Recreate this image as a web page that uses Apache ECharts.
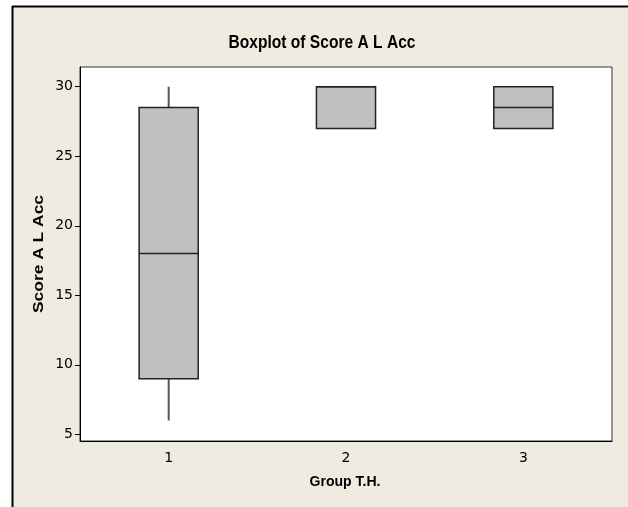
<!DOCTYPE html>
<html>
<head>
<meta charset="utf-8">
<script src="https://cdn.jsdelivr.net/npm/echarts@6/dist/echarts.min.js"></script>
<style>html,body{margin:0;padding:0;background:#fff}#c{width:628px;height:507px}</style>
</head>
<body>
<div id="c"></div>
<script>
var categories = ['1', '2', '3'];
var mins    = [6, 27, 27];
var q1s     = [9, 27, 27];
var medians = [18, 30, 28.5];
var q3s     = [28.5, 30, 30];
var maxs    = [30, 30, 30];
var yTicks  = [5, 10, 15, 20, 25, 30];
var titleText = 'Boxplot of Score A L Acc';
var xName = 'Group T.H.';
var yName = 'Score A L Acc';

var data = categories.map(function (c, i) {
  return [i, mins[i], q1s[i], medians[i], q3s[i], maxs[i]];
});

var mctx = document.createElement('canvas').getContext('2d');
function fitScale(text, font, target) {
  mctx.font = font;
  return target / mctx.measureText(text).width;
}
var titleFont = 'bold 18px "Liberation Sans"';
var nameFont = 'bold 15px "Liberation Sans"';

function condensedText(text, font, x, y, width, rot) {
  return {
    type: 'text', x: x, y: y, rotation: rot || 0,
    scaleX: fitScale(text, font, width), scaleY: 1,
    style: {text: text, font: font, fill: '#000', align: 'center', verticalAlign: 'middle'},
    z: 10
  };
}

var chart = echarts.init(document.getElementById('c'), null, {renderer: 'canvas'});
chart.setOption({
  backgroundColor: '#ffffff',
  animation: false,
  graphic: [
    {type: 'rect', shape: {x: 13, y: 7, width: 620, height: 510}, style: {fill: '#efebe1'}, z: -10, silent: true},
    {type: 'line', shape: {x1: 12.5, y1: 6, x2: 12.5, y2: 507}, style: {stroke: '#000', lineWidth: 2}, z: -9},
    {type: 'line', shape: {x1: 12, y1: 6.5, x2: 628, y2: 6.5}, style: {stroke: '#000', lineWidth: 2}, z: -9},
    condensedText(titleText, titleFont, 322, 43, 187, 0),
    condensedText(xName, nameFont, 345, 482, 71, 0),
    condensedText(yName, nameFont, 39, 254, 118, Math.PI / 2)
  ],
  grid: {
    left: 80, top: 67, right: 16, bottom: 66,
    show: true, backgroundColor: '#fff', borderColor: '#333', borderWidth: 1
  },
  xAxis: {
    type: 'category',
    data: categories,
    boundaryGap: true,
    axisLine: {lineStyle: {color: '#000', width: 1}},
    axisTick: {alignWithLabel: true, length: 5, inside: false, lineStyle: {color: '#000'}},
    axisLabel: {margin: 10, fontFamily: 'DejaVu Sans', fontSize: 14, color: '#000'},
    splitLine: {show: false}
  },
  yAxis: {
    type: 'value',
    min: 4.52, max: 31.42,
    axisLine: {show: true, lineStyle: {color: '#000', width: 1}},
    axisTick: {show: true, length: 5, customValues: yTicks, lineStyle: {color: '#000'}},
    axisLabel: {margin: 7, customValues: yTicks, fontFamily: 'DejaVu Sans', fontSize: 14, color: '#000'},
    splitLine: {show: false}
  },
  series: [{
    type: 'custom',
    data: data,
    encode: {x: 0, y: [1, 2, 3, 4, 5]},
    renderItem: function (params, api) {
      var xi = api.value(0);
      var pMin = api.coord([xi, api.value(1)]);
      var pQ1 = api.coord([xi, api.value(2)]);
      var pMed = api.coord([xi, api.value(3)]);
      var pQ3 = api.coord([xi, api.value(4)]);
      var pMax = api.coord([xi, api.value(5)]);
      var band = api.size([1, 0])[0];
      var w = band / 3;
      var x = pQ1[0];
      var children = [];
      if (pMin[1] - pQ1[1] > 0.5) {
        children.push({type: 'line', shape: {x1: x, y1: pQ1[1], x2: x, y2: pMin[1]}, style: {stroke: '#555', lineWidth: 2}});
      }
      if (pQ3[1] - pMax[1] > 0.5) {
        children.push({type: 'line', shape: {x1: x, y1: pQ3[1], x2: x, y2: pMax[1]}, style: {stroke: '#555', lineWidth: 2}});
      }
      children.push({type: 'rect', shape: {x: x - w / 2, y: pQ3[1], width: w, height: pQ1[1] - pQ3[1]}, style: {fill: '#c0c0c0', stroke: '#222', lineWidth: 1.5}});
      children.push({type: 'line', shape: {x1: x - w / 2, y1: pMed[1], x2: x + w / 2, y2: pMed[1]}, style: {stroke: '#222', lineWidth: 1.5}});
      return {type: 'group', children: children};
    }
  }]
});
</script>
</body>
</html>
